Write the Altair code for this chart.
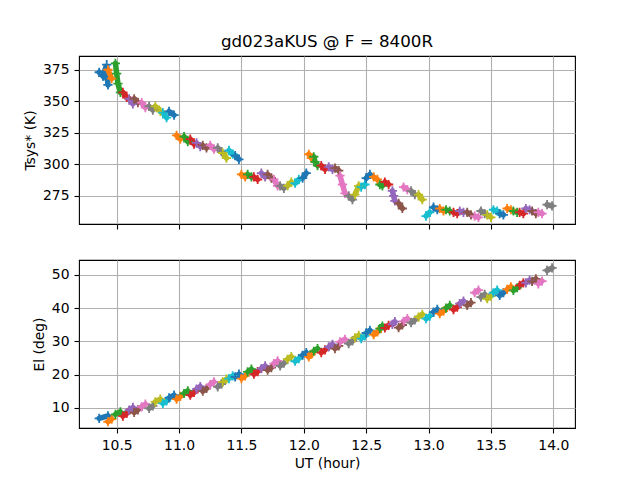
import altair as alt
import pandas as pd

tab10 = ["#1f77b4", "#ff7f0e", "#2ca02c", "#d62728", "#9467bd",
         "#8c564b", "#e377c2", "#7f7f7f", "#bcbd22", "#17becf"]

# UT sample times (hours) per scan
scan_t = [
    [10.36, 10.39, 10.42, 10.43], [10.43, 10.46], [10.49, 10.50, 10.51, 10.53],
    [10.55, 10.58], [10.60, 10.63], [10.64, 10.67], [10.70, 10.73], [10.76, 10.79],
    [10.81, 10.85], [10.87, 10.90], [10.92, 10.96], [10.98, 11.01], [11.04, 11.07],
    [11.09, 11.12], [11.14, 11.17], [11.19, 11.22], [11.25, 11.28], [11.31, 11.34],
    [11.35, 11.38], [11.40, 11.43], [11.45, 11.48], [11.50, 11.53], [11.55, 11.58],
    [11.60, 11.63], [11.66, 11.69], [11.71, 11.74], [11.76, 11.79], [11.81, 11.84],
    [11.87, 11.90], [11.93, 11.96], [11.99, 12.02], [12.04, 12.06],
    [12.08, 12.09, 12.11], [12.14, 12.17], [12.20, 12.23], [12.25, 12.28],
    [12.29, 12.31, 12.33], [12.36, 12.39], [12.41, 12.44], [12.46, 12.49],
    [12.50, 12.53], [12.56, 12.59], [12.61, 12.63], [12.65, 12.68],
    [12.71, 12.72, 12.73], [12.76, 12.79], [12.80, 12.83], [12.86, 12.89],
    [12.92, 12.95], [12.98, 13.01], [13.04, 13.07], [13.09, 13.12], [13.14, 13.17],
    [13.20, 13.23], [13.25, 13.28], [13.31, 13.34], [13.37, 13.40], [13.42, 13.45],
    [13.47, 13.50], [13.52, 13.55], [13.57, 13.60], [13.63, 13.66], [13.68, 13.71],
    [13.73, 13.76], [13.78, 13.81], [13.83, 13.86], [13.88, 13.91], [13.95, 13.99],
]

# Tsys* (K) per scan, same sample times
scan_tsys = [
    [373, 370, 379, 363], [375, 368], [380, 372, 364, 357],
    [357, 353], [352, 348], [352, 349], [349, 345], [346, 343],
    [346, 342], [341, 337], [342, 339], [323, 320], [322, 318],
    [320, 316], [317, 314], [315, 313], [315, 312], [313, 310],
    [309, 305], [311, 308], [307, 304], [292, 290], [292, 290],
    [290, 288], [293, 290], [292, 289], [288, 283], [283, 281],
    [283, 286], [285, 288], [289, 293], [308, 305],
    [306, 302, 299], [299, 296], [298, 296], [297, 295],
    [291, 284, 277], [275, 272], [276, 283], [282, 284],
    [289, 292], [290, 288], [284, 283], [286, 284],
    [279, 275, 271], [269, 265], [282, 280], [279, 276],
    [276, 272], [259, 262], [266, 264], [265, 263], [264, 263],
    [262, 261], [263, 262], [262, 260], [259, 258], [263, 261],
    [260, 258], [264, 263], [261, 260], [265, 264], [263, 262],
    [262, 261], [265, 264], [263, 261], [262, 261], [268, 267],
]

# Elevation (deg) at first and last sample time of each scan
scan_el = [
    [6.8, 7.6], [5.8, 6.6], [8.0, 8.8], [7.5, 8.3], [9.3, 10.1], [8.6, 9.4],
    [10.3, 11.1], [9.8, 10.6], [11.8, 12.6], [11.3, 12.1], [13.0, 13.8],
    [12.6, 13.4], [14.3, 15.1], [13.8, 14.6], [15.6, 16.4], [15.0, 15.8],
    [17.0, 17.8], [16.3, 17.1], [17.8, 18.6], [18.8, 19.6], [19.3, 20.1],
    [18.8, 19.6], [20.8, 21.6], [20.1, 20.9], [21.8, 22.6], [21.3, 22.1],
    [23.3, 24.1], [22.6, 23.4], [24.6, 25.4], [24.0, 24.8], [25.8, 26.6],
    [25.3, 26.1], [27.0, 27.8], [26.6, 27.4], [28.3, 29.1], [27.8, 28.6],
    [29.8, 30.6], [29.3, 30.1], [31.0, 31.8], [30.8, 31.6], [32.5, 33.3],
    [32.0, 32.8], [33.8, 34.6], [34.0, 34.8], [35.1, 35.9], [34.1, 34.9],
    [36.0, 36.8], [35.6, 36.4], [37.3, 38.1], [36.8, 37.6], [38.8, 39.6],
    [38.3, 39.1], [40.0, 40.8], [39.5, 40.3], [41.3, 42.1], [40.8, 41.6],
    [44.6, 45.4], [43.3, 44.1], [42.8, 43.6], [44.6, 45.4], [43.8, 44.6],
    [45.6, 46.4], [45.3, 46.1], [46.8, 47.6], [47.6, 48.4], [48.0, 48.8],
    [47.3, 48.1], [51.3, 52.1],
]

title_text = "gd023aKUS @ F = 8400R"
x_ticks = [10.5, 11.0, 11.5, 12.0, 12.5, 13.0, 13.5, 14.0]
tsys_ticks = [275, 300, 325, 350, 375]
el_ticks = [10, 20, 30, 40, 50]

top_rows, bot_rows = [], []
for i, (ts, vs, el) in enumerate(zip(scan_t, scan_tsys, scan_el)):
    for t, v in zip(ts, vs):
        top_rows.append({"scan": i, "c": i % 10, "t": t, "v": v})
    bot_rows.append({"scan": i, "c": i % 10, "t": ts[0], "v": el[0]})
    bot_rows.append({"scan": i, "c": i % 10, "t": ts[-1], "v": el[1]})
top_df = pd.DataFrame(top_rows)
bot_df = pd.DataFrame(bot_rows)

FONT = "DejaVu Sans"
plus = "M-1,0L1,0M0,-1L0,1"
color = alt.Color("c:N", scale=alt.Scale(domain=list(range(10)), range=tab10), legend=None)
xscale = alt.Scale(domain=[10.198, 14.174], nice=False, zero=False)


def panel(df, ydomain, yticks, ytitle, show_x):
    xaxis = alt.Axis(values=x_ticks, format=".1f", labels=show_x,
                     title="UT (hour)" if show_x else None)
    x = alt.X("t:Q", scale=xscale, axis=xaxis)
    y = alt.Y("v:Q", scale=alt.Scale(domain=ydomain, nice=False, zero=False),
              axis=alt.Axis(values=yticks, title=ytitle))
    base = alt.Chart(df)
    lines = base.mark_line(strokeWidth=5.5, strokeCap="round", clip=True).encode(
        x=x, y=y, color=color, detail="scan:N")
    pts = base.mark_point(shape=plus, filled=False, size=85, strokeWidth=1.8,
                          opacity=1, clip=True).encode(x=x, y=y, color=color)
    return alt.layer(lines, pts).properties(width=496, height=168)


top = panel(top_df, [252.7, 385.9], tsys_ticks, "Tsys* (K)", False).properties(
    title=alt.TitleParams(title_text, fontSize=16.7, fontWeight="normal",
                          font=FONT, offset=5, anchor="middle", color="black"))
bottom = panel(bot_df, [3.92, 54.45], el_ticks, "El (deg)", True)

chart = alt.vconcat(top, bottom, spacing=28).properties(
    padding={"left": 14, "top": 25, "right": 5, "bottom": 0},
    background="white",
).configure_view(stroke="black", strokeWidth=1.1).configure_axis(
    domain=False, grid=True, gridColor="#b0b0b0", gridWidth=1.1,
    tickColor="black", tickSize=5, tickWidth=1.1,
    labelFont=FONT, labelFontSize=13.9, labelColor="black", labelPadding=5,
    titleFont=FONT, titleFontSize=13.9, titleFontWeight="normal",
    titleColor="black", titlePadding=5,
)

chart.save("out.html", embed_options={"renderer": "svg", "actions": False})
